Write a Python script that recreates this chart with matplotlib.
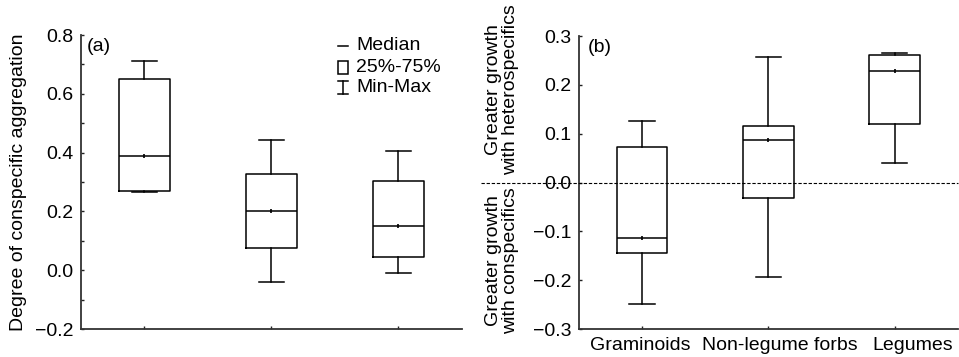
import matplotlib
matplotlib.use("Agg")
import matplotlib.pyplot as plt
import matplotlib.transforms as mtrans
from matplotlib.patches import Rectangle
from matplotlib.lines import Line2D

plt.rcParams['font.family'] = ['Liberation Sans', 'DejaVu Sans']
fs = 14

# panel (a) values: degree of conspecific aggregation
a_min = [0.266, -0.040, -0.008]
a_q1 = [0.271, 0.074, 0.045]
a_med = [0.389, 0.202, 0.149]
a_q3 = [0.652, 0.326, 0.302]
a_max = [0.713, 0.443, 0.404]

# panel (b) values
groups = ["Graminoids", "Non-legume forbs", "Legumes"]
b_min = [-0.249, -0.193, 0.040]
b_q1 = [-0.144, -0.032, 0.119]
b_med = [-0.114, 0.087, 0.228]
b_q3 = [0.072, 0.116, 0.262]
b_max = [0.125, 0.258, 0.265]

fig = plt.figure(figsize=(9.59, 3.57), dpi=100)
ax1 = fig.add_axes([0.0845, 0.0784, 0.397, 0.8235])
ax2 = fig.add_axes([0.6037, 0.0784, 0.395, 0.8207])


def stats(lo, q1, med, q3, hi):
    return [dict(whislo=a, q1=b, med=c, q3=d, whishi=e, fliers=[])
            for a, b, c, d, e in zip(lo, q1, med, q3, hi)]


def draw(ax, st):
    lp = dict(color='black', linewidth=1.1)
    ax.bxp(st, positions=[1, 2, 3], widths=0.4, capwidths=0.2,
           showfliers=False, boxprops=lp, whiskerprops=lp, capprops=lp,
           medianprops=lp)
    ax.plot([1, 2, 3], [s['med'] for s in st], ls='none', marker='|',
            ms=3, color='black', mew=1.2)
    ax.set_xlim(0.5, 3.5)
    for s in ['top', 'right']:
        ax.spines[s].set_visible(False)
    for s in ['left', 'bottom']:
        ax.spines[s].set_color('#333333')
        ax.spines[s].set_linewidth(1.3)
    ax.tick_params(direction='in', length=2.5, width=1, labelsize=fs,
                   pad=5.5, colors='#222222', labelcolor='black')


draw(ax1, stats(a_min, a_q1, a_med, a_q3, a_max))
ax1.set_ylim(-0.2, 0.8)
ax1.set_yticks([-0.2, 0.0, 0.2, 0.4, 0.6, 0.8])
ax1.set_yticklabels(['\u22120.2', '0.0', '0.2', '0.4', '0.6', '0.8'])
ax1.set_yticks([-0.1, 0.1, 0.3, 0.5, 0.7], minor=True)
ax1.tick_params(which='minor', direction='in', length=2.5, width=1,
                colors='#222222')
ax1.set_xticks([1, 2, 3])
ax1.set_xticklabels([])
ax1.text(0.016, 0.962, '(a)', transform=ax1.transAxes, fontsize=fs,
         va='center', ha='left')
fig.text(0.019, 0.49, 'Degree of conspecific aggregation', rotation=90,
         fontsize=fs, ha='center', va='center')

# legend drawn by hand
tr = ax1.transAxes
lx, tx = 0.688, 0.722
rows = [0.963, 0.888, 0.823]
ax1.add_line(Line2D([lx - 0.014, lx + 0.014], [rows[0]] * 2, color='black',
                    lw=1.1, transform=tr))
ax1.add_patch(Rectangle((lx - 0.014, rows[1] - 0.022), 0.028, 0.044,
                        fill=False, ec='black', lw=1.1, transform=tr))
ax1.add_line(Line2D([lx, lx], [rows[2] - 0.022, rows[2] + 0.022],
                    color='black', lw=1.1, transform=tr))
for yy in (rows[2] - 0.022, rows[2] + 0.022):
    ax1.add_line(Line2D([lx - 0.012, lx + 0.012], [yy, yy], color='black',
                        lw=1.1, transform=tr))
for yy, t in zip(rows, ['Median', '25%-75%', 'Min-Max']):
    ax1.text(tx, yy, t, transform=tr, fontsize=fs, va='center', ha='left')

draw(ax2, stats(b_min, b_q1, b_med, b_q3, b_max))
ax2.set_ylim(-0.3, 0.3)
yt = [-0.3, -0.2, -0.1, 0.0, 0.1, 0.2, 0.3]
ax2.set_yticks(yt)
ax2.set_yticklabels(['\u22120.3', '\u22120.2', '\u22120.1', '0.0', '0.1',
                     '0.2', '0.3'])
ax2.set_xticks([1, 2, 3])
ax2.set_xticklabels(groups)
# labels sit slightly right of their ticks in the original
for lab, dx in zip(ax2.get_xticklabels(), [-2, 11, 18]):
    lab.set_transform(lab.get_transform() +
                      mtrans.ScaledTranslation(dx / 100, 0,
                                               fig.dpi_scale_trans))
ax2.text(0.022, 0.962, '(b)', transform=ax2.transAxes, fontsize=fs,
         va='center', ha='left')
ax2.plot([-0.259, 1.0], [0, 0], transform=ax2.get_yaxis_transform(),
         color='black', lw=0.8, ls=(0, (3, 1.6)), clip_on=False, zorder=5)
fig.text(0.5235, 0.748, 'Greater growth\nwith heterospecifics', rotation=90,
         fontsize=fs, ha='center', va='center', linespacing=1.02)
fig.text(0.5235, 0.269, 'Greater growth\nwith conspecifics', rotation=90,
         fontsize=fs, ha='center', va='center', linespacing=1.02)

fig.savefig('out.png', dpi=100)
